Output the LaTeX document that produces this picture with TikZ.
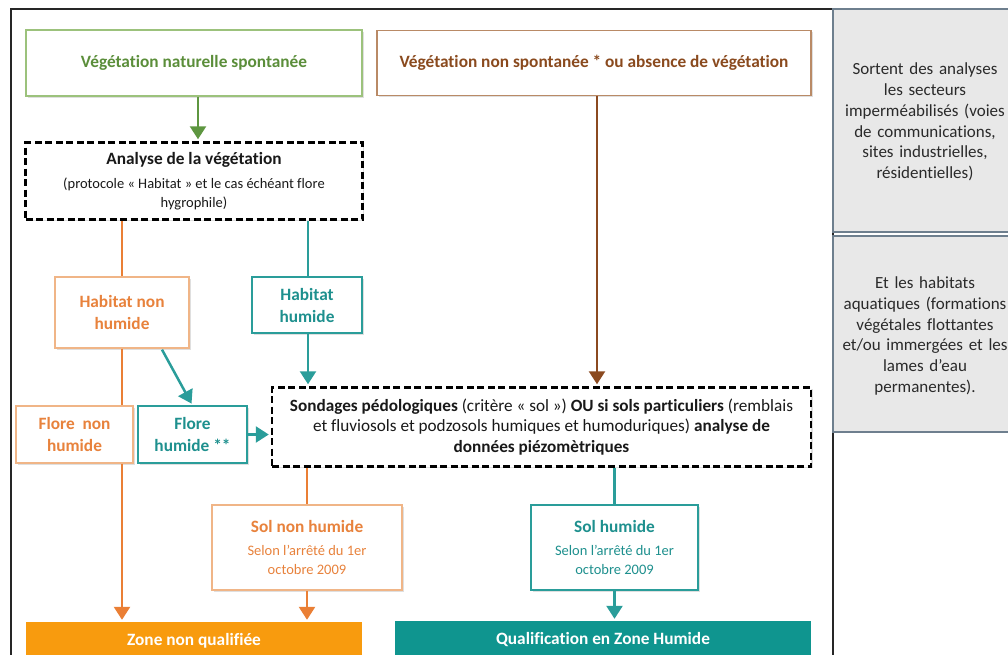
\documentclass[tikz,border=0pt]{standalone}
\usepackage{fontspec}
\setmainfont{Carlito}[Ligatures={NoCommon}]
\usetikzlibrary{arrows.meta,shadows,calc}
\definecolor{grtxt}{HTML}{5B8E3A}
\definecolor{grbrd}{HTML}{9CC27C}
\definecolor{grarr}{HTML}{5E9640}
\definecolor{brtxt}{HTML}{8A4A1E}
\definecolor{brbrd}{HTML}{B98A66}
\definecolor{brarr}{HTML}{8B4A20}
\definecolor{ortxt}{HTML}{E8823C}
\definecolor{orbrd}{HTML}{F0B587}
\definecolor{orarr}{HTML}{EA7F35}
\definecolor{orfill}{HTML}{F89B0E}
\definecolor{tltxt}{HTML}{1E908E}
\definecolor{tlbrd}{HTML}{2A9D9A}
\definecolor{tlfill}{HTML}{0F958F}
\definecolor{pnfill}{HTML}{E8E8E8}
\definecolor{pnbrd}{HTML}{6E7F8E}
\definecolor{pntxt}{HTML}{2A2A2A}
\newcommand{\tfont}{\fontsize{17.3}{22}\selectfont\bfseries}
\newcommand{\sfnt}{\fontsize{14.5}{19}\selectfont\mdseries}
\tikzset{
  shd/.style={drop shadow={opacity=0.25,shadow xshift=1.5pt,shadow yshift=-1.5pt}},
  boxg/.style={draw=grbrd,line width=1.3pt,fill=white,shd,text=grtxt,font=\tfont,align=center,inner sep=0pt},
  boxb/.style={draw=brbrd,line width=1.3pt,fill=white,shd,text=brtxt,font=\tfont,align=center,inner sep=0pt},
  boxo/.style={draw=orbrd,line width=1.3pt,fill=white,shd,text=ortxt,font=\tfont,align=center,inner sep=0pt},
  boxt/.style={draw=tlbrd,line width=1.3pt,fill=white,shd,text=tltxt,font=\tfont,align=center,inner sep=0pt},
  dbox/.style={draw=black,line width=2.5pt,dash pattern=on 7pt off 3.5pt,fill=white,shd,align=center,inner sep=0pt,text=black!90},
  fbox/.style={inner sep=0pt,text=white,font=\tfont,align=center},
  panel/.style={fill=pnfill,draw=pnbrd,line width=1.1pt},
  ptxt/.style={text=pntxt,font=\fontsize{17}{20.7}\selectfont,align=center,text width=200pt},
  con/.style={line width=2.5pt},
  arr/.style={con,-{Triangle[width=16pt,length=13pt]},shorten >=2pt},
}
\begin{document}
\begin{tikzpicture}[x=1pt,y=-1pt]
\useasboundingbox (0,0) rectangle (1008,654);
% frame
\draw[line width=1.3pt,color=black!85] (11,660) -- (11,9) -- (833,9) -- (833,660);
% side panels
\path[panel] (833,9) rectangle (1015,232);
\path[panel] (833,236) rectangle (1015,432);
\node[ptxt] (p1) at (925,122) {Sortent des analyses\\les secteurs\\imperméabilisés (voies\\de communications,\\sites industrielles,\\résidentielles)};
\node[ptxt] (p2) at (925,336) {Et les habitats\\aquatiques (formations\\végétales flottantes\\et/ou immergées et les\\lames d’eau\\permanentes).};
% nodes
\node[boxg,minimum width=336pt,minimum height=66pt] (veg) at (194,63) {Végétation naturelle spontanée};
\node[boxb,minimum width=434pt,minimum height=65pt] (nonsp) at (594,63) {Végétation non spontanée * ou absence de végétation};
\node[dbox,minimum width=337pt,minimum height=77pt,font=\sfnt] (ana) at (194,181) {\raisebox{-2pt}{\tfont Analyse de la végétation}\\[7pt](protocole « Habitat » et le cas échéant flore\\hygrophile)};
\node[boxo,minimum width=134pt,minimum height=71pt] (hnh) at (122,312.5) {Habitat non\\humide};
\node[boxt,minimum width=110pt,minimum height=56pt] (hh) at (307,305) {Habitat\\humide};
\node[boxo,minimum width=117pt,minimum height=57pt] (fnh) at (74.5,434.5) {Flore~ non\\humide};
\node[boxt,minimum width=109pt,minimum height=57pt] (fh) at (192.5,434.5) {Flore\\humide **};
\node[dbox,minimum width=539pt,minimum height=79pt,font=\fontsize{17.2}{20.5}\selectfont] (sond) at (541.5,427) {\textbf{Sondages pédologiques} (critère « sol ») \textbf{OU si sols particuliers} (remblais\\et fluviosols et podzosols humiques et humoduriques) \textbf{analyse de}\\\textbf{données piézomètriques}};
\node[boxo,minimum width=190pt,minimum height=85pt,font=\sfnt] (snh) at (307,547.5) {{\tfont Sol non humide}\\[4pt]Selon l’arrêté du 1er\\octobre 2009};
\node[boxt,minimum width=167pt,minimum height=85pt,font=\sfnt] (sh) at (614.5,547.5) {{\tfont Sol humide}\\[4pt]Selon l’arrêté du 1er\\octobre 2009};
\node[fbox,fill=orfill,minimum width=336pt,minimum height=38pt] (znq) at (194,641) {Zone non qualifiée};
\node[fbox,fill=tlfill,minimum width=416pt,minimum height=38pt] (qzh) at (603,640) {Qualification en Zone Humide};
% connectors
\draw[arr,grarr] ([xshift=4pt]veg.south) -- ([xshift=4pt]veg.south |- ana.north);
\draw[arr,brarr] ([xshift=3pt]nonsp.south) -- ([xshift=3pt]nonsp.south |- sond.north);
\draw[con,orarr] (hnh.north |- ana.south) -- (hnh.north);
\draw[con,tlbrd] ([xshift=1pt]hh.north |- ana.south) -- ([xshift=1pt]hh.north);
\draw[arr,tlbrd] ([xshift=1pt]hh.south) -- ([xshift=1pt]hh.south |- sond.north);
\draw[arr,tlbrd] ($(hnh.south)+(40,1)$) -- (fh.north);
\draw[con,orarr] (hnh.south) -- (hnh.south |- fnh.north);
\draw[arr,orarr] (hnh.south |- fnh.south) -- (hnh.south |- znq.north);
\draw[arr,tlbrd] (fh.east) -- (fh.east -| sond.west);
\draw[con,orarr] (snh.north |- sond.south) -- (snh.north);
\draw[arr,orarr] (snh.south) -- (snh.south |- znq.north);
\draw[con,tlbrd] (sh.north |- sond.south) -- (sh.north);
\draw[arr,tlbrd] (sh.south) -- (sh.south |- qzh.north);
\end{tikzpicture}
\end{document}
